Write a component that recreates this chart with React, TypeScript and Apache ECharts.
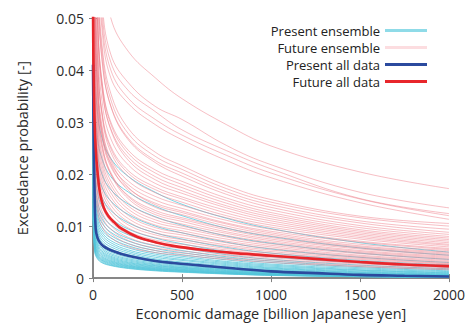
import React, { useEffect, useRef } from "react";
import * as echarts from "echarts";

// x positions (billion yen) at which each ensemble curve was read
const ENS_X = [0, 10, 25, 50, 100, 200, 350, 500, 750, 1000, 1500, 2000];

// Future ensemble curves, exceedance probability in units of 1e-3
const FUTURE_ENSEMBLE: number[][] = [
  [200, 120, 85, 62, 50, 43.5, 38.5, 34.5, 29.5, 25.4, 20.4, 17.2],
  [175, 102, 72, 53.5, 43, 37.5, 33, 30.5, 25.5, 21.8, 16.5, 13.5],
  [170, 99, 69, 51.5, 41.5, 36, 32, 28.5, 24.5, 21.0, 15.3, 12.4],
  [160, 95, 66, 49.5, 40, 34.5, 30.5, 27.5, 23.6, 20.2, 15.2, 12.0],
  [155, 92, 64, 48, 38.5, 33.5, 29.5, 26.6, 22.6, 19.3, 14.5, 11.3],
  [151, 83, 60, 45, 35.5, 28.7, 24.2, 21.6, 17.8, 15.1, 11.9, 10.5],
  [146, 80, 58, 44, 34.3, 27.7, 23.4, 20.9, 17.2, 14.6, 11.6, 10.0],
  [141, 78, 56, 42, 33.1, 26.8, 22.6, 20.2, 16.6, 14.1, 11.0, 9.4],
  [150, 82, 58, 42.5, 33, 26.5, 22.2, 19.6, 16.1, 13.6, 10.6, 8.8],
  [120, 68, 50, 38, 30, 24.5, 20.8, 18.6, 15.4, 13.1, 10.1, 8.4],
  [126, 69, 50, 37.8, 29.6, 23.9, 20.2, 18.0, 14.9, 12.6, 9.7, 8.0],
  [122, 67, 49, 36.6, 28.7, 23.2, 19.5, 17.4, 14.4, 12.2, 9.3, 7.7],
  [135, 72, 51, 37, 28.5, 22.6, 18.9, 16.8, 13.9, 11.8, 9.0, 7.4],
  [114, 63, 46, 34.2, 26.8, 21.7, 18.2, 16.3, 13.5, 11.4, 8.7, 7.1],
  [100, 57, 42, 32, 25.3, 20.6, 17.5, 15.6, 13.0, 11.0, 8.4, 6.8],
  [106, 58, 42.4, 31.8, 24.9, 20.1, 17.0, 15.2, 12.5, 10.6, 8.1, 6.5],
  [110, 60, 43, 31.5, 24.2, 19.5, 16.4, 14.6, 12.0, 10.2, 7.8, 6.3],
  [98, 54, 39.2, 29.4, 23.0, 18.6, 15.7, 14.0, 11.6, 9.8, 7.5, 6.0],
  [94, 52, 37.6, 28.2, 22.1, 17.9, 15.0, 13.4, 11.1, 9.4, 7.1, 5.7],
  [95, 52, 37, 27.5, 21.4, 17.2, 14.4, 12.9, 10.6, 9.0, 6.9, 5.5],
  [104, 52, 37.4, 28.7, 22.6, 17.4, 14.1, 12.6, 10.4, 8.7, 6.5, 5.3],
  [101, 50, 36.1, 27.7, 21.8, 16.8, 13.6, 12.2, 10.0, 8.4, 6.2, 5.0],
  [85, 44, 32, 25, 20, 15.8, 13.0, 11.6, 9.6, 8.1, 6.0, 4.8],
  [94, 47, 33.5, 25.7, 20.3, 15.6, 12.6, 11.3, 9.3, 7.8, 5.8, 4.6],
  [100, 50, 35, 26, 20, 15.2, 12.2, 10.9, 8.9, 7.5, 5.6, 4.4],
  [86, 43, 31, 23.8, 18.7, 14.4, 11.7, 10.4, 8.6, 7.2, 5.3, 4.2],
  [83, 41, 29.7, 22.8, 17.9, 13.8, 11.2, 10.0, 8.2, 6.9, 5.1, 4.0],
  [79, 40, 28.4, 21.8, 17.2, 13.2, 10.7, 9.6, 7.9, 6.6, 4.9, 3.8],
  [76, 38, 27.1, 20.8, 16.4, 12.6, 10.2, 9.1, 7.5, 6.3, 4.7, 3.6],
  [72, 36, 25.8, 19.8, 15.6, 12.0, 9.7, 8.7, 7.1, 6.0, 4.4, 3.4],
  [68, 34, 24.5, 18.8, 14.8, 11.4, 9.2, 8.3, 6.8, 5.7, 4.2, 3.2],
  [65, 32, 23.2, 17.8, 14.0, 10.8, 8.7, 7.8, 6.4, 5.4, 4.0, 3.0],
  [61, 31, 21.9, 16.8, 13.3, 10.2, 8.3, 7.4, 6.1, 5.1, 3.8, 2.8],
  [58, 29, 20.6, 15.8, 12.5, 9.6, 7.8, 7.0, 5.7, 4.8, 3.6, 2.7],
  [54, 27, 19.4, 14.9, 11.7, 9.0, 7.3, 6.5, 5.4, 4.5, 3.3, 2.5],
  [50, 25, 18.1, 13.9, 10.9, 8.4, 6.8, 6.1, 5.0, 4.2, 3.1, 2.3],
  [47, 23, 16.8, 12.9, 10.1, 7.8, 6.3, 5.7, 4.6, 3.9, 2.9, 2.1],
  [43, 22, 15.5, 11.9, 9.4, 7.2, 5.8, 5.2, 4.3, 3.6, 2.7, 2.0],
  [40, 20, 14.2, 10.9, 8.6, 6.6, 5.3, 4.8, 3.9, 3.3, 2.4, 1.8],
  [36, 18, 12.9, 9.9, 7.8, 6.0, 4.9, 4.4, 3.6, 3.0, 2.2, 1.6],
];

// Present ensemble curves, exceedance probability in units of 1e-3
const PRESENT_ENSEMBLE: number[][] = [
  [60, 40, 32, 27, 23, 19.5, 16.5, 14.2, 11.5, 9.5, 6.8, 5.0],
  [50, 34, 27, 23, 19.5, 16.5, 13.8, 12.0, 9.6, 8.0, 5.8, 4.4],
  [45, 30, 24, 20, 17, 14.2, 11.8, 10.2, 8.1, 6.7, 4.8, 3.6],
  [40, 26, 21, 17.5, 14.8, 12.2, 10.0, 8.7, 6.9, 5.6, 4.0, 3.0],
  [38, 23, 18.5, 15.5, 13.0, 10.6, 8.7, 7.5, 5.9, 4.8, 3.4, 2.5],
  [36, 21, 16.5, 13.8, 11.5, 9.4, 7.7, 6.6, 5.1, 4.1, 2.9, 2.1],
  [34, 19, 14.8, 12.3, 10.2, 8.3, 6.8, 5.8, 4.5, 3.6, 2.5, 1.8],
  [33, 18, 13.8, 11.4, 9.4, 7.6, 6.2, 5.3, 4.1, 3.3, 2.2, 1.6],
  [32, 17, 12.9, 10.6, 8.8, 7.1, 5.7, 4.9, 3.8, 3.0, 2.0, 1.4],
  [31, 16, 12.1, 9.9, 8.2, 6.6, 5.3, 4.5, 3.5, 2.7, 1.8, 1.25],
  [30, 15, 11.4, 9.3, 7.7, 6.2, 4.9, 4.2, 3.2, 2.5, 1.6, 1.1],
  [29, 14.2, 10.7, 8.8, 7.2, 5.8, 4.6, 3.9, 3.0, 2.3, 1.5, 1.0],
  [28, 13.4, 10.1, 8.3, 6.8, 5.4, 4.3, 3.6, 2.8, 2.1, 1.35, 0.9],
  [27, 12.6, 9.5, 7.8, 6.4, 5.1, 4.0, 3.4, 2.6, 1.95, 1.2, 0.8],
  [26, 11.9, 9.0, 7.3, 6.0, 4.8, 3.7, 3.1, 2.4, 1.8, 1.1, 0.7],
  [25, 11.2, 8.5, 6.9, 5.6, 4.5, 3.5, 2.9, 2.2, 1.65, 1.0, 0.65],
  [24, 10.6, 8.0, 6.5, 5.3, 4.2, 3.3, 2.7, 2.05, 1.5, 0.9, 0.6],
  [23, 10.0, 7.5, 6.1, 5.0, 3.95, 3.1, 2.55, 1.9, 1.4, 0.82, 0.52],
  [22, 9.5, 7.1, 5.8, 4.7, 3.7, 2.9, 2.4, 1.75, 1.3, 0.75, 0.47],
  [21, 9.0, 6.7, 5.5, 4.45, 3.5, 2.7, 2.25, 1.65, 1.2, 0.68, 0.42],
  [20, 8.5, 6.4, 5.2, 4.2, 3.3, 2.55, 2.1, 1.55, 1.1, 0.62, 0.38],
  [19, 8.1, 6.1, 4.95, 4.0, 3.1, 2.4, 2.0, 1.45, 1.02, 0.57, 0.34],
  [18, 7.7, 5.8, 4.7, 3.8, 2.95, 2.3, 1.9, 1.35, 0.95, 0.52, 0.3],
  [17, 7.3, 5.5, 4.45, 3.6, 2.8, 2.15, 1.78, 1.27, 0.88, 0.48, 0.27],
  [16, 7.0, 5.2, 4.2, 3.4, 2.65, 2.05, 1.68, 1.2, 0.82, 0.44, 0.24],
  [15, 6.7, 5.0, 4.0, 3.25, 2.5, 1.93, 1.58, 1.12, 0.77, 0.4, 0.22],
  [14.5, 6.4, 4.75, 3.8, 3.1, 2.38, 1.83, 1.5, 1.05, 0.72, 0.37, 0.2],
  [14, 6.1, 4.5, 3.6, 2.95, 2.27, 1.74, 1.42, 0.99, 0.67, 0.34, 0.18],
  [13.5, 5.8, 4.3, 3.45, 2.8, 2.16, 1.65, 1.35, 0.93, 0.63, 0.31, 0.16],
  [13, 5.5, 4.1, 3.3, 2.65, 2.05, 1.56, 1.27, 0.88, 0.59, 0.29, 0.15],
  [12.5, 5.2, 3.9, 3.1, 2.5, 1.94, 1.48, 1.2, 0.83, 0.55, 0.27, 0.14],
  [12, 5.0, 3.7, 2.95, 2.4, 1.84, 1.4, 1.13, 0.78, 0.52, 0.25, 0.13],
];

// "All data" curves
const ALL_X = [0, 3, 8, 15, 25, 40, 60, 85, 120, 160, 250, 350, 450, 600, 800, 1000, 1250, 1500, 1750, 2000];
const PRESENT_ALL = [41, 30, 18, 9.5, 7.8, 6.8, 6.1, 5.6, 5.1, 4.65, 3.9, 3.3, 2.9, 2.45, 1.85, 1.3, 0.95, 0.62, 0.45, 0.3];
const FUTURE_ALL = [52, 40, 31, 25, 20.5, 16.2, 13.6, 12.0, 10.7, 9.5, 7.9, 6.9, 6.2, 5.5, 4.8, 4.3, 3.7, 3.1, 2.6, 2.3];

const UNIT = 1e-3;
const X_TICKS = [0, 500, 1000, 1500, 2000];
const Y_TICKS = [0, 0.01, 0.02, 0.03, 0.04, 0.05];
const LEGEND_NAMES = ["Present ensemble", "Future ensemble", "Present all data", "Future all data"];

const FONT = "'Open Sans', 'Noto Sans', sans-serif";

export default function App() {
  const ref = useRef<HTMLDivElement>(null);
  useEffect(() => {
    if (!ref.current) return;
    const chart = echarts.init(ref.current, undefined, { renderer: "svg" });
    const toPts = (xs: number[], ys: number[]) => xs.map((x, i) => [x, ys[i] * UNIT]);
    const series: any[] = [];
    const base = { type: "line", showSymbol: false, symbol: "none", smooth: 0.4 };
    PRESENT_ENSEMBLE.forEach((row) =>
      series.push({
        ...base,
        name: LEGEND_NAMES[0],
        data: toPts(ENS_X, row),
        lineStyle: { color: "rgba(80,196,218,0.75)", width: 1 },
        itemStyle: { color: "#8fdbe8" },
        silent: true,
      })
    );
    FUTURE_ENSEMBLE.forEach((row) =>
      series.push({
        ...base,
        name: LEGEND_NAMES[1],
        data: toPts(ENS_X, row),
        lineStyle: { color: "rgba(240,128,140,0.5)", width: 1 },
        itemStyle: { color: "#fcdde0" },
        silent: true,
      })
    );
    series.push({
      ...base,
      name: LEGEND_NAMES[2],
      data: toPts(ALL_X, PRESENT_ALL),
      lineStyle: { color: "#2b4a9e", width: 2.6 },
      itemStyle: { color: "#2b4a9e" },
    });
    series.push({
      ...base,
      name: LEGEND_NAMES[3],
      data: toPts(ALL_X, FUTURE_ALL),
      lineStyle: { color: "#e8262b", width: 2.6 },
      itemStyle: { color: "#e8262b" },
    });

    const axisLine = { show: true, lineStyle: { color: "#808080", width: 1.5 } };
    const tick = { show: true, inside: true, length: 4, lineStyle: { color: "#808080" } };
    const labelStyle = { fontFamily: FONT, fontSize: 14, color: "#2a2a2a", margin: 9 };
    chart.setOption({
      animation: false,
      backgroundColor: "#ffffff",
      textStyle: { fontFamily: FONT },
      grid: { left: 93, right: 18, top: 18, bottom: 47 },
      legend: {
        orient: "vertical",
        align: "right",
        right: 36,
        top: 17,
        icon: "rect",
        itemWidth: 42,
        itemHeight: 3,
        itemGap: 0,
        data: LEGEND_NAMES,
        textStyle: { fontFamily: FONT, fontSize: 13, color: "#222", lineHeight: 17 },
      },
      xAxis: [
        {
          type: "value",
          min: X_TICKS[0],
          max: X_TICKS[X_TICKS.length - 1],
          interval: X_TICKS[1] - X_TICKS[0],
          name: "Economic damage [billion Japanese yen]",
          nameLocation: "middle",
          nameGap: 27,
          nameTextStyle: { fontFamily: FONT, fontSize: 14.5, color: "#2a2a2a" },
          axisLine,
          axisTick: tick,
          axisLabel: { ...labelStyle, formatter: (v: number) => String(v) },
          splitLine: { show: false },
        },
        {
          type: "value",
          position: "top",
          min: X_TICKS[0],
          max: X_TICKS[X_TICKS.length - 1],
          interval: X_TICKS[1] - X_TICKS[0],
          axisLine,
          axisTick: tick,
          axisLabel: { show: false },
          splitLine: { show: false },
        },
      ],
      yAxis: [
        {
          type: "value",
          min: Y_TICKS[0],
          max: Y_TICKS[Y_TICKS.length - 1],
          interval: Y_TICKS[1] - Y_TICKS[0],
          name: "Exceedance probability [-]",
          nameLocation: "middle",
          nameGap: 63,
          nameTextStyle: { fontFamily: FONT, fontSize: 14.5, color: "#2a2a2a" },
          axisLine,
          axisTick: tick,
          axisLabel: { ...labelStyle, formatter: (v: number) => String(v) },
          splitLine: { show: false },
        },
        {
          type: "value",
          position: "right",
          min: Y_TICKS[0],
          max: Y_TICKS[Y_TICKS.length - 1],
          interval: Y_TICKS[1] - Y_TICKS[0],
          axisLine,
          axisTick: tick,
          axisLabel: { show: false },
          splitLine: { show: false },
        },
      ],
      series,
    });
    return () => chart.dispose();
  }, []);
  return (
    <div
      ref={ref}
      style={{ position: "fixed", left: 0, top: 0, width: 468, height: 326 }}
    />
  );
}
